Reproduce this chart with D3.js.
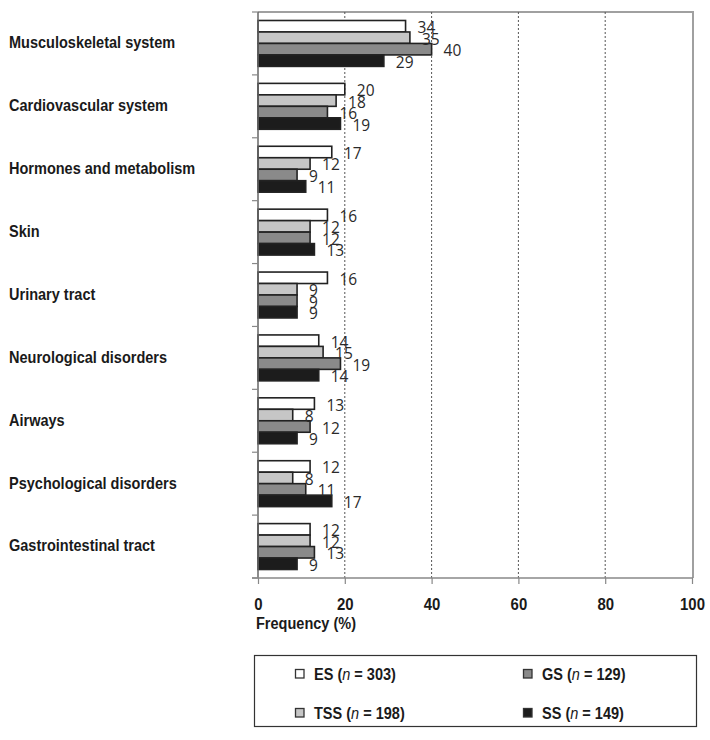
<!DOCTYPE html>
<html>
<head>
<meta charset="utf-8">
<script src="https://cdn.jsdelivr.net/npm/d3@7"></script>
<style>
html,body{margin:0;padding:0;background:#fff;}
svg{display:block;}
</style>
</head>
<body>
<svg id="chart" width="710" height="740"></svg>
<script>
const categories = ["Musculoskeletal system","Cardiovascular system","Hormones and metabolism","Skin","Urinary tract","Neurological disorders","Airways","Psychological disorders","Gastrointestinal tract"];
const seriesNames = ["ES","TSS","GS","SS"];
const seriesN = [303,198,129,149];
const ES  = [34,20,17,16,16,14,13,12,12];
const TSS = [35,18,12,12,9,15,8,8,12];
const GS  = [40,16,9,12,9,19,12,11,13];
const SS  = [29,19,11,13,9,14,9,17,9];
const xTicks = [0,20,40,60,80,100];
const seriesValues = [ES,TSS,GS,SS];
const colors = {ES:"#ffffff",TSS:"#c6c6c6",GS:"#8a8a8a",SS:"#1c1c1c"};

(function(){
const svg = d3.select("#chart");
const L = 258, R = 692, T = 12, B = 578;
const boldFont = "'Liberation Sans',Arial,sans-serif";
const numFont = "'Open Sans','Noto Sans',sans-serif";
const SX = 0.88, BFS = 16.5;

const x = d3.scaleLinear().domain([0,100]).range([L,R]);
const y = d3.scaleBand().domain(categories).range([T,B]).padding(0);
const yInner = d3.scaleBand().domain(seriesNames).range([0,y.bandwidth()]).paddingInner(0).paddingOuter(0.74);

// frame top & right
svg.append("line").attr("x1",L).attr("x2",R+1).attr("y1",T).attr("y2",T)
  .attr("stroke","#a0a0a0").attr("stroke-width",2);
svg.append("line").attr("x1",R+1).attr("x2",R+1).attr("y1",T-1).attr("y2",B)
  .attr("stroke","#a0a0a0").attr("stroke-width",2);

// gridlines
svg.append("g").selectAll("line").data(xTicks.filter(t=>t>0&&t<100)).join("line")
  .attr("x1",d=>x(d)).attr("x2",d=>x(d)).attr("y1",T).attr("y2",B)
  .attr("stroke","#555").attr("stroke-width",1).attr("stroke-dasharray","2,2");

// bars
const rows = [];
categories.forEach((c,i)=>{
  seriesNames.forEach((s,j)=>{ rows.push({cat:c,s:s,v:seriesValues[j][i]}); });
});
svg.append("g").selectAll("rect").data(rows).join("rect")
  .attr("x",x(0))
  .attr("y",d=>y(d.cat)+yInner(d.s))
  .attr("width",d=>x(d.v)-x(0))
  .attr("height",yInner.bandwidth())
  .attr("fill",d=>colors[d.s])
  .attr("stroke","#222").attr("stroke-width",1.6);

// value labels
svg.append("g").selectAll("text").data(rows).join("text")
  .attr("x",d=>x(d.v)+12)
  .attr("y",d=>y(d.cat)+yInner(d.s)+yInner.bandwidth()/2+1)
  .attr("dominant-baseline","central")
  .attr("font-family",numFont).attr("font-size",15.5).attr("fill","#2a2a2a")
  .text(d=>d.v);

// left axis
svg.append("line").attr("x1",L).attr("x2",L).attr("y1",T).attr("y2",B)
  .attr("stroke","#666").attr("stroke-width",1.5);
const bounds = categories.map(c=>y(c)).concat([B]);
svg.append("g").selectAll("line").data(bounds).join("line")
  .attr("x1",L-6).attr("x2",L).attr("y1",d=>d).attr("y2",d=>d)
  .attr("stroke","#888").attr("stroke-width",1.2);

// category labels
svg.append("g").selectAll("text").data(categories).join("text")
  .attr("transform",d=>`translate(9,${y(d)+y.bandwidth()/2-1}) scale(${SX},1)`)
  .attr("dominant-baseline","central")
  .attr("font-family",boldFont).attr("font-weight","bold").attr("font-size",BFS).attr("fill","#1a1a1a")
  .text(d=>d);

// bottom axis
const xAxis = d3.axisBottom(x).tickValues(xTicks).tickSize(6).tickPadding(14).tickSizeOuter(0);
const gx = svg.append("g").attr("transform",`translate(0,${B})`).call(xAxis);
gx.select(".domain").remove();
gx.selectAll(".tick line").attr("stroke","#888").attr("stroke-width",1.2);
gx.selectAll(".tick text").attr("font-family",boldFont).attr("font-weight","bold")
  .attr("font-size",17).attr("fill","#1a1a1a").attr("transform",`scale(${SX},1)`);
svg.append("line").attr("x1",L-6).attr("x2",R+1).attr("y1",B).attr("y2",B)
  .attr("stroke","#888").attr("stroke-width",1.5);

svg.append("text").attr("transform",`translate(256,629) scale(${SX},1)`)
  .attr("font-family",boldFont).attr("font-weight","bold").attr("font-size",BFS).attr("fill","#1a1a1a")
  .text("Frequency (%)");

// legend
svg.append("rect").attr("x",254.5).attr("y",655.5).attr("width",442).attr("height",71)
  .attr("fill","none").attr("stroke","#333").attr("stroke-width",1.2);
const legPos = [[295,674],[295,713],[523,674],[523,713]];
seriesNames.forEach((s,i)=>{
  const [lx,ly] = legPos[i];
  svg.append("rect").attr("x",lx+0.5).attr("y",ly-4.5).attr("width",8.5).attr("height",8.5)
    .attr("fill",colors[s]).attr("stroke","#333").attr("stroke-width",1.3);
  const t = svg.append("text").attr("transform",`translate(${lx+19},${ly}) scale(${SX},1)`)
    .attr("dominant-baseline","central")
    .attr("font-family",boldFont).attr("font-weight","bold").attr("font-size",BFS).attr("fill","#1a1a1a");
  t.append("tspan").text(s+" (");
  t.append("tspan").attr("font-style","italic").attr("font-weight","normal").text("n");
  t.append("tspan").text(" = "+seriesN[i]+")");
});
})();
</script>
</body>
</html>
